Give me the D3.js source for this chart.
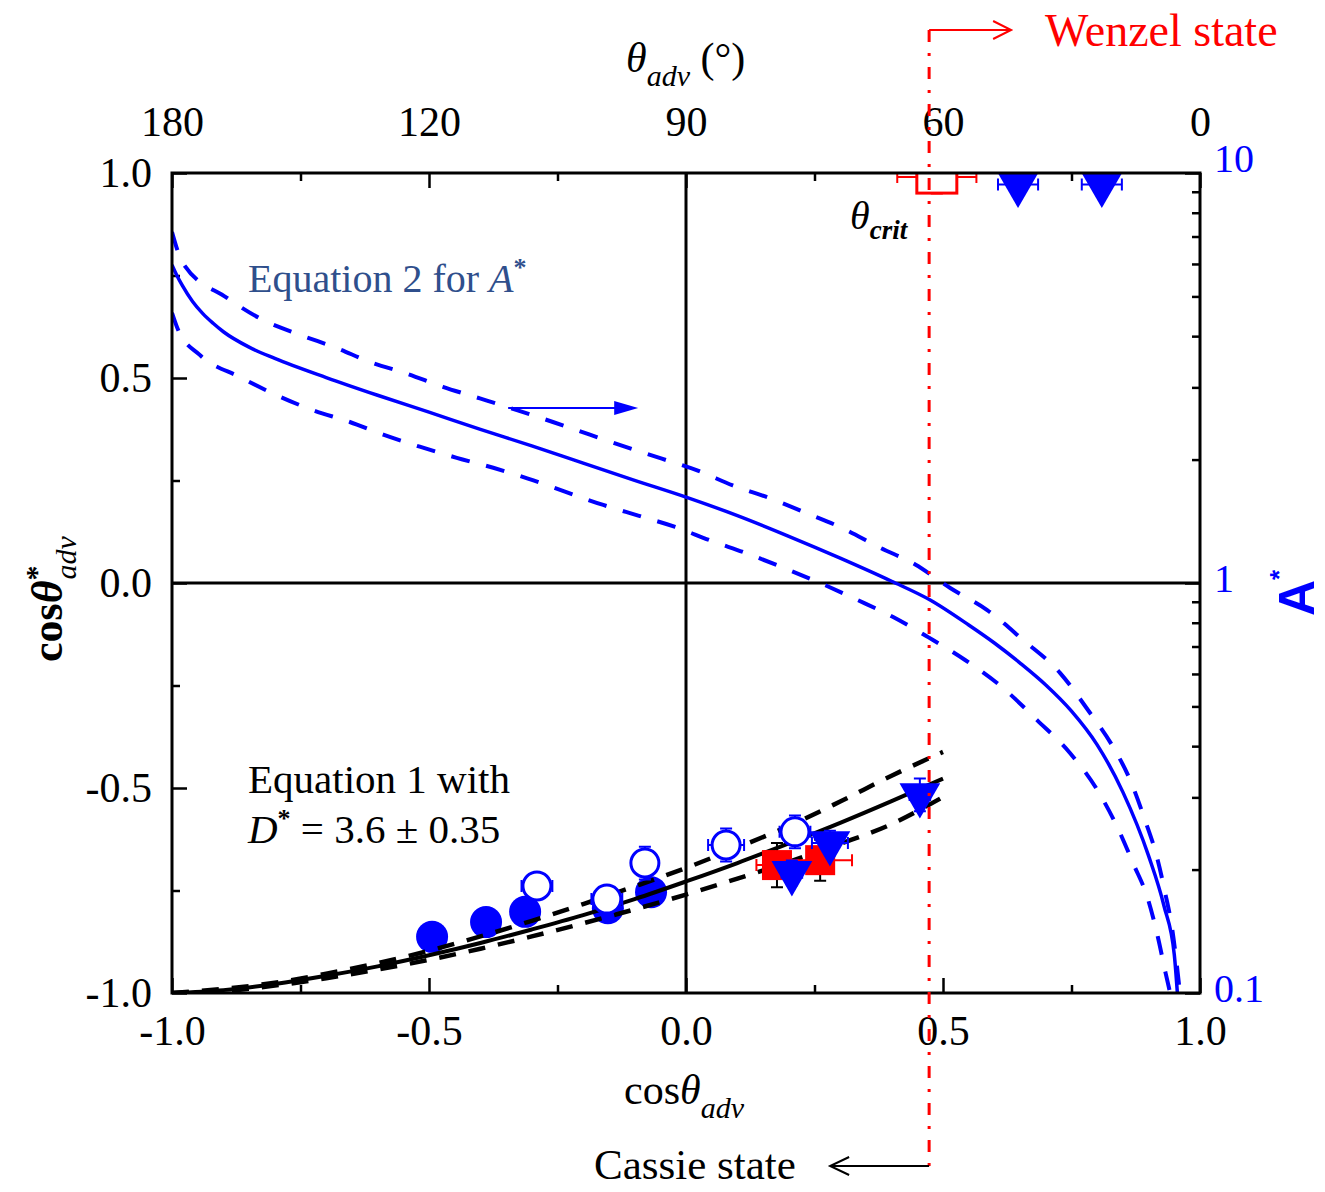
<!DOCTYPE html>
<html>
<head>
<meta charset="utf-8">
<script src="https://cdn.jsdelivr.net/npm/d3@7"></script>
<style>
  body { margin: 0; background: #fff; }
  svg text { font-family: "Liberation Serif", "Times New Roman", serif; }
</style>
</head>
<body>
<svg id="chart"></svg>
<script>
// ---- data ----
// Equation 2 (A*, right log axis) : solid = best fit, dashed = bounds
const eq2Cos = [-1.000, -0.990, -0.980, -0.960, -0.940, -0.920, -0.900, -0.850, -0.800, -0.700, -0.600, -0.500, -0.400, -0.300, -0.200, -0.100, 0.000, 0.100, 0.200, 0.300, 0.400, 0.475, 0.550, 0.600, 0.650, 0.700, 0.750, 0.800, 0.850, 0.900, 0.930, 0.950, 0.956];
const eq2A   = [5.97, 5.61, 5.32, 4.86, 4.54, 4.30, 4.10, 3.76, 3.53, 3.17, 2.87, 2.61, 2.37, 2.16, 1.96, 1.78, 1.62, 1.46, 1.30, 1.15, 1.01, 0.909, 0.790, 0.714, 0.638, 0.564, 0.487, 0.403, 0.309, 0.216, 0.163, 0.124, 0.100];
const eq2UpperCos = [-1.000, -0.979, -0.893, -0.823, -0.751, -0.679, -0.615, -0.543, -0.473, -0.401, -0.329, -0.259, -0.187, -0.119, -0.047, 0.023, 0.091, 0.163, 0.235, 0.305, 0.377, 0.446, 0.514, 0.586, 0.656, 0.728, 0.782, 0.831, 0.864, 0.893, 0.916, 0.932, 0.946, 0.961];
const eq2UpperA   = [7.18, 6.03, 4.96, 4.38, 4.03, 3.74, 3.46, 3.24, 3.01, 2.82, 2.64, 2.47, 2.30, 2.15, 2.01, 1.88, 1.73, 1.61, 1.48, 1.36, 1.22, 1.11, 0.972, 0.859, 0.726, 0.603, 0.490, 0.398, 0.331, 0.264, 0.215, 0.176, 0.143, 0.100];
const eq2LowerCos = [-1.000, -0.988, -0.946, -0.868, -0.796, -0.726, -0.654, -0.589, -0.518, -0.446, -0.375, -0.309, -0.161, -0.093, -0.021, 0.047, 0.119, 0.189, 0.261, 0.333, 0.403, 0.471, 0.543, 0.615, 0.683, 0.747, 0.800, 0.839, 0.870, 0.899, 0.918, 0.933, 0.942];
const eq2LowerA   = [4.56, 4.14, 3.60, 3.18, 2.87, 2.64, 2.47, 2.30, 2.15, 2.02, 1.91, 1.80, 1.55, 1.46, 1.37, 1.27, 1.18, 1.09, 1.00, 0.910, 0.826, 0.738, 0.649, 0.557, 0.463, 0.385, 0.313, 0.254, 0.207, 0.169, 0.137, 0.112, 0.100];

// Equation 1 (cos theta*, left axis) with D* = 3.6 +/- 0.35
const eq1Cos   = [-1.0, -0.9, -0.8, -0.7, -0.6, -0.5, -0.4, -0.3, -0.2, -0.1, 0.0, 0.1, 0.2, 0.3, 0.4, 0.5];
const eq1Mid   = [-1.0, -0.993, -0.978, -0.958, -0.935, -0.908, -0.878, -0.845, -0.810, -0.771, -0.728, -0.683, -0.635, -0.585, -0.532, -0.477];
const eq1Upper = [-1.0, -0.990, -0.975, -0.953, -0.927, -0.897, -0.862, -0.824, -0.783, -0.740, -0.695, -0.645, -0.593, -0.533, -0.470, -0.412];
const eq1Lower = [-1.0, -0.995, -0.982, -0.964, -0.943, -0.919, -0.892, -0.862, -0.830, -0.796, -0.760, -0.721, -0.680, -0.636, -0.588, -0.522];

// measured points: x = cos(theta_adv), y = cos(theta*_adv)
const filledCircleX = [-0.494, -0.389, -0.313, -0.152, -0.068];
const filledCircleY = [-0.863, -0.827, -0.802, -0.793, -0.754];
const openCircleX   = [-0.290, -0.154, -0.080, 0.078, 0.212];
const openCircleY   = [-0.739, -0.771, -0.683, -0.639, -0.607];
const openCircleXErr = [0.030, 0.030, 0.020, 0.035, 0.030];
const openCircleYErr = [0.030, 0.030, 0.040, 0.040, 0.040];
const redSquareX = [0.177, 0.261];
const redSquareY = [-0.688, -0.676];
const redSquareXErr = [0.040, 0.062];
const redSquareYErr = [0.054, 0.050];
const triangleX = [0.206, 0.280, 0.455, 0.646, 0.809];
const triangleY = [-0.707, -0.634, -0.517, 0.972, 0.972];
const triangleXErr = [0.020, 0.035, 0.020, 0.039, 0.039];
const triangleYErr = [0.030, 0.030, 0.040, 0.000, 0.000];
const openSquareX = [0.488];
const openSquareY = [0.990];
const openSquareXErr = [0.077];
const openSquareYErr = [0.040];
const critCos = 0.473;

// axis ticks
const cosMajor = [-1, -0.5, 0, 0.5, 1];
const cosMinor = [-0.75, -0.25, 0.25, 0.75];
const angleLabels = [180, 120, 90, 60, 0];
const aMajor = [0.1, 1, 10];
const aMinor = [0.2, 0.3, 0.4, 0.5, 0.6, 0.7, 0.8, 0.9, 2, 3, 4, 5, 6, 7, 8, 9];

// ---- layout ----
const width = 1325, height = 1192;
const margin = { top: 173, right: 125, bottom: 199, left: 172 };
const w = width - margin.left - margin.right;
const h = height - margin.top - margin.bottom;
const BLUE = "#0000ff", RED = "#ff0000";

const svg = d3.select("#chart").attr("width", width).attr("height", height);
const g = svg.append("g").attr("transform", `translate(${margin.left},${margin.top})`);

const x = d3.scaleLinear().domain([-1, 1]).range([0, w]);
const y = d3.scaleLinear().domain([-1, 1]).range([h, 0]);
const yA = d3.scaleLog().domain([0.1, 10]).range([h, 0]);

// ---- axes (drawn first so the markers sit on top of the ticks) ----
const fmt1 = d => d.toFixed(1);
function styleAxis(sel, size, color) {
  sel.select(".domain").remove();
  sel.selectAll(".tick line").attr("stroke", "#000").attr("stroke-width", 2.5);
  sel.selectAll(".tick text").attr("font-size", size).attr("fill", color)
    .attr("font-family", "Liberation Serif, Times New Roman, serif");
}

const xBottom = g.append("g").attr("transform", `translate(0,${h})`)
  .call(d3.axisBottom(x).tickValues(cosMajor).tickSize(-15).tickPadding(22).tickFormat(fmt1));
styleAxis(xBottom, 42, "#000");
const xBottomMinor = g.append("g").attr("transform", `translate(0,${h})`)
  .call(d3.axisBottom(x).tickValues(cosMinor).tickSize(-8).tickFormat(""));
styleAxis(xBottomMinor, 0, "#000");

const xTop = g.append("g")
  .call(d3.axisTop(x).tickValues(cosMajor).tickSize(-15).tickPadding(37)
    .tickFormat((d, i) => angleLabels[i]));
styleAxis(xTop, 42, "#000");
const xTopMinor = g.append("g")
  .call(d3.axisTop(x).tickValues(cosMinor).tickSize(-8).tickFormat(""));
styleAxis(xTopMinor, 0, "#000");

const yLeft = g.append("g")
  .call(d3.axisLeft(y).tickValues(cosMajor).tickSize(-15).tickPadding(20).tickFormat(fmt1));
styleAxis(yLeft, 42, "#000");
const yLeftMinor = g.append("g")
  .call(d3.axisLeft(y).tickValues(cosMinor).tickSize(-8).tickFormat(""));
styleAxis(yLeftMinor, 0, "#000");

const yRight = g.append("g").attr("transform", `translate(${w},0)`)
  .call(d3.axisRight(yA).tickValues(aMajor).tickSize(-15).tickPadding(14).tickFormat(d => String(d)));
styleAxis(yRight, 40, BLUE);
yRight.selectAll(".tick text").attr("dy", d => d === 10 ? "-0.05em" : "0.2em");
const yRightMinor = g.append("g").attr("transform", `translate(${w},0)`)
  .call(d3.axisRight(yA).tickValues(aMinor).tickSize(-8).tickFormat(""));
styleAxis(yRightMinor, 0, BLUE);

// ---- plot area ----
g.append("clipPath").attr("id", "plot-clip")
  .append("rect").attr("width", w).attr("height", h);
const plot = g.append("g").attr("clip-path", "url(#plot-clip)");

// zero lines
plot.append("line").attr("x1", x(0)).attr("x2", x(0)).attr("y1", 0).attr("y2", h)
  .attr("stroke", "#000").attr("stroke-width", 3);
plot.append("line").attr("x1", 0).attr("x2", w).attr("y1", y(0)).attr("y2", y(0))
  .attr("stroke", "#000").attr("stroke-width", 3);

// Equation 2 curves
const lineA = d3.line().x(d => x(d[0])).y(d => yA(d[1])).curve(d3.curveMonotoneX);
const zip = (a, b) => a.map((v, i) => [v, b[i]]);
plot.append("path").datum(zip(eq2UpperCos, eq2UpperA)).attr("d", lineA)
  .attr("fill", "none").attr("stroke", BLUE).attr("stroke-width", 4).attr("stroke-dasharray", "19,17");
plot.append("path").datum(zip(eq2LowerCos, eq2LowerA)).attr("d", lineA)
  .attr("fill", "none").attr("stroke", BLUE).attr("stroke-width", 4).attr("stroke-dasharray", "19,17");
plot.append("path").datum(zip(eq2Cos, eq2A)).attr("d", lineA)
  .attr("fill", "none").attr("stroke", BLUE).attr("stroke-width", 3.5);

// filled circles sit under the Equation 1 lines
plot.selectAll(".filled-circle")
  .data(zip(filledCircleX, filledCircleY))
  .join("circle")
  .attr("class", "filled-circle")
  .attr("cx", d => x(d[0])).attr("cy", d => y(d[1])).attr("r", 16)
  .attr("fill", BLUE);

// Equation 1 curves
const lineC = d3.line().x(d => x(d[0])).y(d => y(d[1])).curve(d3.curveMonotoneX);
[eq1Upper, eq1Lower].forEach(vals => {
  plot.append("path").datum(zip(eq1Cos, vals)).attr("d", lineC)
    .attr("fill", "none").attr("stroke", "#000").attr("stroke-width", 4.5).attr("stroke-dasharray", "17,13");
});
plot.append("path").datum(zip(eq1Cos, eq1Mid)).attr("d", lineC)
  .attr("fill", "none").attr("stroke", "#000").attr("stroke-width", 4);

// error bars helper
function errorBars(xs, ys, xe, ye, colorX, colorY) {
  const cap = 6;
  xs.forEach((cx, i) => {
    const px = x(cx), py = y(ys[i]);
    if (xe[i] > 0) {
      const x0 = x(cx - xe[i]), x1 = x(cx + xe[i]);
      plot.append("path")
        .attr("d", `M${x0},${py}H${x1}M${x0},${py - cap}V${py + cap}M${x1},${py - cap}V${py + cap}`)
        .attr("stroke", colorX).attr("stroke-width", 2).attr("fill", "none");
    }
    if (ye[i] > 0) {
      const y0 = y(ys[i] - ye[i]), y1 = y(ys[i] + ye[i]);
      plot.append("path")
        .attr("d", `M${px},${y0}V${y1}M${px - cap},${y0}H${px + cap}M${px - cap},${y1}H${px + cap}`)
        .attr("stroke", colorY).attr("stroke-width", 2).attr("fill", "none");
    }
  });
}

// red squares
errorBars(redSquareX, redSquareY, redSquareXErr, redSquareYErr, RED, "#000");
plot.selectAll(".red-square")
  .data(zip(redSquareX, redSquareY))
  .join("rect")
  .attr("class", "red-square")
  .attr("x", d => x(d[0]) - 15).attr("y", d => y(d[1]) - 15)
  .attr("width", 30).attr("height", 30)
  .attr("fill", RED);

// open circles
errorBars(openCircleX, openCircleY, openCircleXErr, openCircleYErr, BLUE, BLUE);
plot.selectAll(".open-circle")
  .data(zip(openCircleX, openCircleY))
  .join("circle")
  .attr("class", "open-circle")
  .attr("cx", d => x(d[0])).attr("cy", d => y(d[1])).attr("r", 14)
  .attr("fill", "#fff").attr("stroke", BLUE).attr("stroke-width", 3);

// open red square at the top edge
errorBars(openSquareX, openSquareY, openSquareXErr, openSquareYErr, RED, RED);
plot.selectAll(".open-square")
  .data(zip(openSquareX, openSquareY))
  .join("rect")
  .attr("class", "open-square")
  .attr("x", d => x(d[0]) - 20).attr("y", d => y(d[1]) - 16)
  .attr("width", 40).attr("height", 32)
  .attr("fill", "#fff").attr("stroke", RED).attr("stroke-width", 3);

// down triangles
errorBars(triangleX, triangleY, triangleXErr, triangleYErr, BLUE, BLUE);
const tri = d3.symbol().type(d3.symbolTriangle).size(720);
plot.selectAll(".triangle")
  .data(zip(triangleX, triangleY))
  .join("path")
  .attr("class", "triangle")
  .attr("d", tri)
  .attr("transform", d => `translate(${x(d[0])},${y(d[1])}) rotate(180)`)
  .attr("fill", BLUE);

// frame
g.append("rect").attr("width", w).attr("height", h)
  .attr("fill", "none").attr("stroke", "#000").attr("stroke-width", 3);

// ---- axis titles ----
const bottomTitle = svg.append("text").attr("x", 624).attr("y", 1104).attr("font-size", 42);
bottomTitle.append("tspan").text("cos");
bottomTitle.append("tspan").attr("font-style", "italic").text("θ");
bottomTitle.append("tspan").attr("font-style", "italic").attr("font-size", 30).attr("dy", 14).text("adv");

const topTitle = svg.append("text").attr("x", 626).attr("y", 72).attr("font-size", 42);
topTitle.append("tspan").attr("font-style", "italic").text("θ");
topTitle.append("tspan").attr("font-style", "italic").attr("font-size", 30).attr("dy", 14).text("adv");
topTitle.append("tspan").attr("dy", -14).text(" (°)");

const leftTitle = svg.append("text")
  .attr("transform", "translate(62,662) rotate(-90)")
  .attr("font-size", 44).attr("font-weight", "bold");
leftTitle.append("tspan").text("cos");
leftTitle.append("tspan").attr("font-style", "italic").text("θ");
leftTitle.append("tspan").attr("font-size", 30).attr("dy", -16).text("*");
leftTitle.append("tspan").attr("font-style", "italic").attr("font-weight", "normal")
  .attr("font-size", 30).attr("dx", -14).attr("dy", 30).text("adv");

const rightTitle = svg.append("text")
  .attr("transform", "translate(1314,616) rotate(-90)")
  .attr("font-size", 50).attr("font-weight", "bold").attr("fill", BLUE)
  .style("font-family", "Liberation Sans, Arial, sans-serif");
rightTitle.append("tspan").text("A");
rightTitle.append("tspan").attr("font-size", 26).attr("dy", -26).text("*");

// ---- annotations ----
const eq2Label = g.append("text").attr("x", 76).attr("y", 119)
  .attr("font-size", 40).attr("fill", "#2f4f8c");
eq2Label.append("tspan").text("Equation 2 for ");
eq2Label.append("tspan").attr("font-style", "italic").text("A");
eq2Label.append("tspan").attr("font-size", 26).attr("font-weight", "bold").attr("dy", -16).text("*");

// arrow pointing to the right axis
const arrowY = y(0.427);
g.append("line").attr("x1", x(-0.346)).attr("x2", x(-0.115))
  .attr("y1", arrowY).attr("y2", arrowY).attr("stroke", BLUE).attr("stroke-width", 2);
g.append("path")
  .attr("d", `M${x(-0.093)},${arrowY}l-24,-7v14z`)
  .attr("fill", BLUE);

const eq1Label = g.append("text").attr("x", 76).attr("y", 620).attr("font-size", 41);
eq1Label.append("tspan").text("Equation 1 with");
const dLine = g.append("text").attr("x", 76).attr("y", 670).attr("font-size", 41);
dLine.append("tspan").attr("font-style", "italic").text("D");
dLine.append("tspan").attr("font-size", 26).attr("font-weight", "bold").attr("dy", -16).text("*");
dLine.append("tspan").attr("dy", 16).text(" = 3.6 ± 0.35");

const crit = g.append("text").attr("x", 678).attr("y", 56).attr("font-size", 40);
crit.append("tspan").attr("font-style", "italic").text("θ");
crit.append("tspan").attr("font-style", "italic").attr("font-weight", "bold")
  .attr("font-size", 27).attr("dy", 10).text("crit");

// critical angle line, Cassie / Wenzel markers
const cx0 = margin.left + x(critCos);
const topY = 30, botY = 1166;
svg.append("line").attr("x1", cx0).attr("x2", cx0).attr("y1", topY).attr("y2", botY)
  .attr("stroke", RED).attr("stroke-width", 3).attr("stroke-dasharray", "12,11,3,11");
svg.append("path").attr("d", `M${cx0},${topY}H${cx0 + 80}M${cx0 + 64},${topY - 9}L${cx0 + 82},${topY}L${cx0 + 64},${topY + 9}`)
  .attr("fill", "none").attr("stroke", RED).attr("stroke-width", 2);
svg.append("path").attr("d", `M${cx0},${botY}H${cx0 - 97}M${cx0 - 80},${botY - 9}L${cx0 - 99},${botY}L${cx0 - 80},${botY + 9}`)
  .attr("fill", "none").attr("stroke", "#000").attr("stroke-width", 2);

svg.append("text").attr("x", 1045).attr("y", 46).attr("font-size", 46).attr("fill", RED).text("Wenzel state");
svg.append("text").attr("x", 594).attr("y", 1179).attr("font-size", 43).attr("fill", "#000").text("Cassie state");
</script>
</body>
</html>
